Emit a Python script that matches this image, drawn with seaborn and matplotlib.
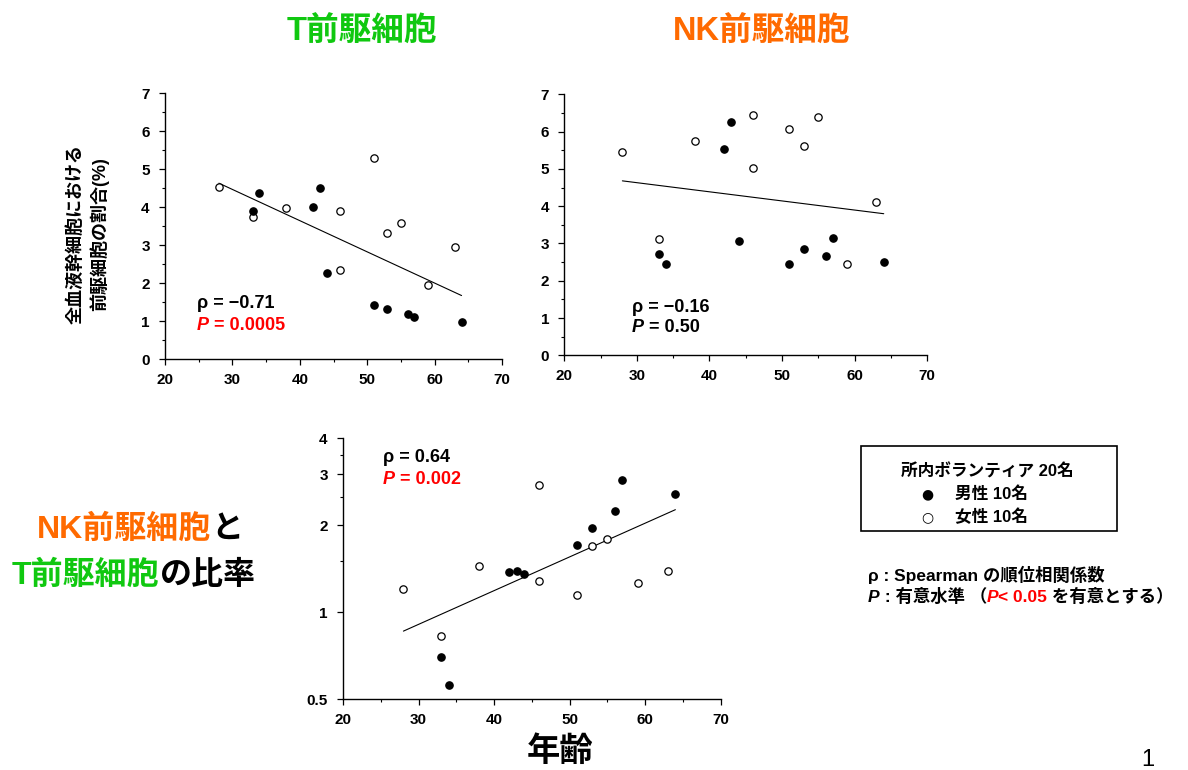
import numpy as np
import pandas as pd
import seaborn as sns
import matplotlib.pyplot as plt
from matplotlib.ticker import FixedLocator, NullFormatter, MultipleLocator
from matplotlib.patches import Rectangle
from matplotlib.text import Annotation

## data (one entry per volunteer)
sex = ['男性'] * 10 + ['女性'] * 10
age = [33, 34, 42, 43, 44, 51, 53, 56, 57, 64,
       28, 33, 38, 46, 46, 51, 53, 55, 59, 63]
t_pct = [3.89, 4.38, 4.01, 4.51, 2.26, 1.44, 1.32, 1.20, 1.11, 0.98,
         4.54, 3.75, 3.98, 2.35, 3.90, 5.30, 3.32, 3.58, 1.96, 2.96]
nk_pct = [2.72, 2.45, 5.52, 6.25, 3.06, 2.44, 2.85, 2.67, 3.15, 2.49,
          5.46, 3.11, 5.76, 6.45, 5.03, 6.06, 5.62, 6.40, 2.46, 4.10]
nk_t_ratio = [0.70, 0.56, 1.375, 1.386, 1.36, 1.705, 1.95, 2.236, 2.86, 2.567,
              1.207, 0.828, 1.45, 2.75, 1.287, 1.145, 1.696, 1.789, 1.26, 1.39]

rho_labels = ['−0.71', '−0.16', '0.64']
p_labels = ['0.0005', '0.50', '0.002']
p_significant = [True, False, True]

GREEN = '#10c810'
ORANGE = '#ff6a00'
RED = '#ff0000'

df = pd.DataFrame({'sex': sex, 'age': age, 't': t_pct, 'nk': nk_pct, 'ratio': nk_t_ratio})

sns.set_theme(style='ticks')
plt.rcParams['font.family'] = ['Liberation Sans', 'Noto Sans CJK JP', 'DejaVu Sans']
plt.rcParams['font.weight'] = 'bold'
plt.rcParams['text.color'] = 'black'

W, H = 1188, 770
fig = plt.figure(figsize=(W / 100, H / 100), dpi=100)


def fx(px):
    return px / W


def fy(py):
    return 1 - py / H


def add_axes(left, top, right, bottom):
    return fig.add_axes([fx(left), fy(bottom), fx(right) - fx(left), (bottom - top) / H])


def chain_text(x, y, pieces, size):
    # pieces: (text, color, style) placed one after another on one line
    prev = None
    for txt, color, style in pieces:
        if prev is None:
            prev = fig.text(fx(x), fy(y), txt, color=color, style=style, fontsize=size,
                            ha='left', va='center')
        else:
            prev = Annotation(txt, xy=(1, 0), xycoords=prev, color=color, style=style,
                              fontsize=size, ha='left', va='bottom')
            fig.add_artist(prev)
    return prev


def style_axes(ax):
    sns.despine(ax=ax)
    for s in ['left', 'bottom']:
        ax.spines[s].set_color('black')
        ax.spines[s].set_linewidth(1.0)
    ax.set_xlim(20, 70)
    ax.xaxis.set_major_locator(MultipleLocator(10))
    ax.xaxis.set_minor_locator(MultipleLocator(5))
    ax.tick_params(which='major', length=4, width=0.9, color='black', labelsize=11,
                   labelcolor='black')
    ax.tick_params(which='minor', length=2.5, width=0.8, color='black')
    ax.tick_params(axis='x', pad=6)
    ax.tick_params(axis='y', pad=7)
    for lab in ax.get_xticklabels() + ax.get_yticklabels():
        lab.set_fontweight('bold')
    ax.set_xlabel('')
    ax.set_ylabel('')


def scatter_pair(ax, col):
    for s, fc in [('女性', 'white'), ('男性', 'black')]:
        sub = df[df['sex'] == s]
        sns.scatterplot(data=sub, x='age', y=col, color=fc, edgecolor='black',
                        linewidth=0.9, s=28, ax=ax, zorder=3, legend=False)


ax_t = add_axes(165, 93.3, 502, 359.3)
ax_nk = add_axes(564.3, 94.3, 927.3, 355.3)
ax_r = add_axes(343, 438.3, 720.7, 699.3)

# T progenitor
scatter_pair(ax_t, 't')
sns.regplot(data=df, x='age', y='t', scatter=False, ci=None, ax=ax_t,
            line_kws=dict(color='black', lw=0.8))
ax_t.set_ylim(0, 7)

# NK progenitor
scatter_pair(ax_nk, 'nk')
sns.regplot(data=df, x='age', y='nk', scatter=False, ci=None, ax=ax_nk,
            line_kws=dict(color='black', lw=0.8))
ax_nk.set_ylim(0, 7)

for ax in [ax_t, ax_nk]:
    ax.yaxis.set_major_locator(MultipleLocator(1))
    ax.yaxis.set_minor_locator(MultipleLocator(0.5))
    style_axes(ax)

# NK / T ratio, exponential trend (straight on log axis)
scatter_pair(ax_r, 'ratio')
b, a = np.polyfit(df['age'], np.log(df['ratio']), 1)
fit_x = np.array([df['age'].min(), df['age'].max()])
sns.lineplot(x=fit_x, y=np.exp(a + b * fit_x), color='black', lw=0.8, ax=ax_r)
ax_r.set_yscale('log')
ax_r.set_ylim(0.5, 4)
ax_r.yaxis.set_major_locator(FixedLocator([0.5, 1, 2, 3, 4]))
ax_r.set_yticklabels(['0.5', '1', '2', '3', '4'])
ax_r.yaxis.set_minor_locator(FixedLocator([1.5, 2.5, 3.5]))
ax_r.yaxis.set_minor_formatter(NullFormatter())
style_axes(ax_r)

# correlation annotations
ann_pos = [(197, 303, 325), (632, 307, 328), (383, 458, 480)]
for (x, y1, y2), rho, p, sig in zip(ann_pos, rho_labels, p_labels, p_significant):
    col = RED if sig else 'black'
    fig.text(fx(x), fy(y1), f'ρ = {rho}', fontsize=13, ha='left', va='center')
    chain_text(x, y2, [('P', col, 'italic'), (f' = {p}', col, 'normal')], 13)

# titles
fig.text(fx(362), fy(32), 'T前駆細胞', color=GREEN, fontsize=23.5, ha='center', va='center')
fig.text(fx(762), fy(32), 'NK前駆細胞', color=ORANGE, fontsize=23.5, ha='center', va='center')
chain_text(37, 530, [('NK前駆細胞', ORANGE, 'normal'), ('と', 'black', 'normal')], 23)
chain_text(12, 576, [('T前駆細胞', GREEN, 'normal'), ('の比率', 'black', 'normal')], 23)

# axis labels
fig.text(fx(88), fy(234), '全血液幹細胞における\n前駆細胞の割合(%)', rotation=90,
         fontsize=13, ha='center', va='center', multialignment='center', linespacing=1.3)
fig.text(fx(560), fy(752), '年齢', fontsize=24, ha='center', va='center')

# legend box
fig.add_artist(Rectangle((fx(860.5), fy(530.5)), fx(1116.5) - fx(860.5), (530.5 - 446) / H,
                         transform=fig.transFigure, fill=False, edgecolor='black', lw=1.2))
fig.text(fx(987), fy(471), '所内ボランティア 20名', fontsize=12, ha='center', va='center')
fig.text(fx(927), fy(494), '●', fontsize=10, ha='center', va='center', family='DejaVu Sans')
fig.text(fx(955), fy(494), '男性 10名', fontsize=12, ha='left', va='center')
fig.text(fx(927), fy(517), '○', fontsize=10, ha='center', va='center', family='DejaVu Sans')
fig.text(fx(955), fy(517), '女性 10名', fontsize=12, ha='left', va='center')

# footnotes
chain_text(868, 575, [('ρ : Spearman の順位相関係数', 'black', 'normal')], 12.5)
chain_text(868, 597, [('P', 'black', 'italic'), (' : 有意水準 （', 'black', 'normal'),
                      ('P', RED, 'italic'), ('< 0.05', RED, 'normal'),
                      (' を有意とする）', 'black', 'normal')], 12.5)

fig.text(fx(1148), fy(760), '1', fontsize=17, fontweight='normal', ha='center', va='center')

fig.savefig('out.png', dpi=100)
